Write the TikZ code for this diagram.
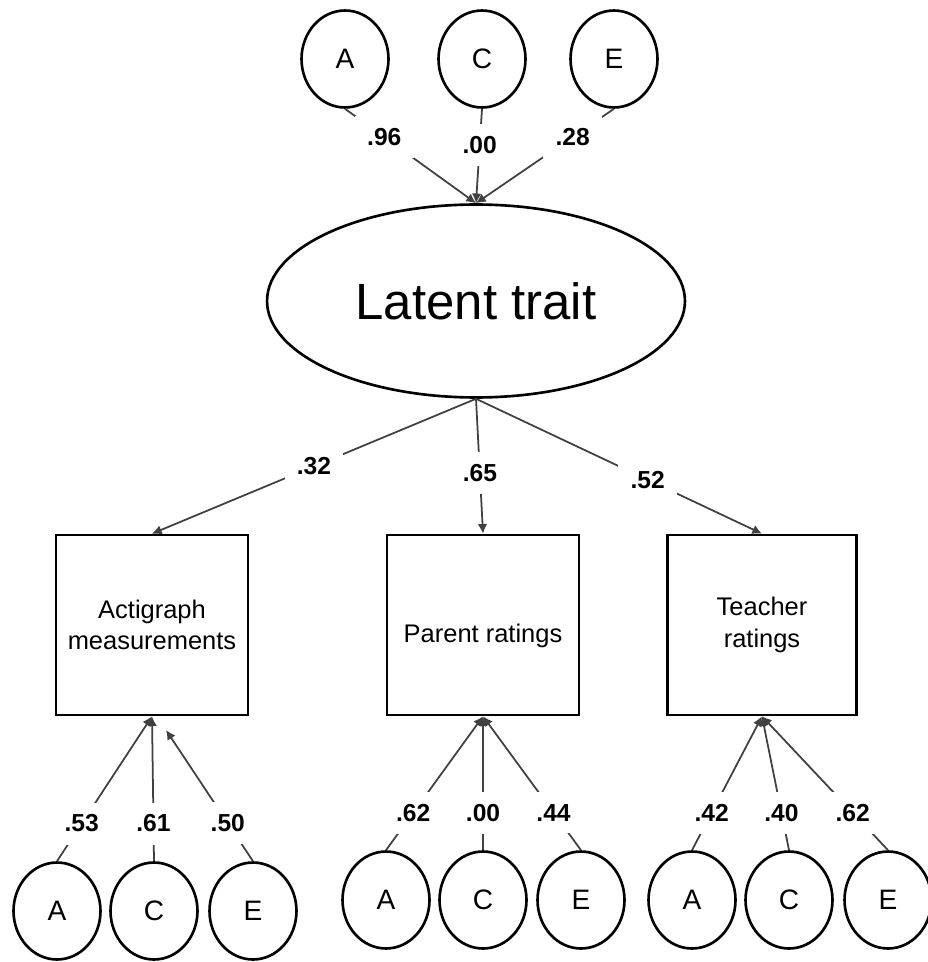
\documentclass[tikz,border=0pt]{standalone}
\usepackage{fontspec}
\setmainfont{Liberation Sans}
\usetikzlibrary{positioning,shapes.geometric,arrows.meta}

\begin{document}
\begin{tikzpicture}[x=0.02cm,y=-0.02cm,
	factor/.style={draw,ellipse,line width=1.5pt,fill=white,minimum width=1.74cm,minimum height=1.94cm,inner sep=0pt,font=\fontsize{16}{18}\selectfont},
	measure/.style={draw,rectangle,line width=1.5pt,minimum width=3.84cm,minimum height=3.6cm,align=center,font=\fontsize{14.5}{18}\selectfont},
	loading/.style={draw=black!75,line width=1pt,-{Latex[length=5.5pt,width=5.5pt]}},
	coef/.style={fill=white,inner sep=7pt,font=\bfseries\fontsize{14}{16}\selectfont}]
	\useasboundingbox (0,0) rectangle (928,962);

	% latent trait and its A, C, E
	\node[draw,ellipse,line width=1.5pt,minimum width=8.36cm,minimum height=3.86cm,font=\fontsize{29}{32}\selectfont] (lat) at (476,301) {Latent trait};
	\node[factor] (tA) at (345,59) {A};
	\node[factor] (tC) at (482,59) {C};
	\node[factor] (tE) at (614,59) {E};

	\draw[loading] (tA.south) -- node[coef,pos=.3] {.96} (lat.north);
	\draw[loading] (tC.south) -- node[coef,pos=.38] {.00} (lat.north);
	\draw[loading] (tE.south) -- node[coef,pos=.3] {.28} (lat.north);

	% measures
	\node[measure] (act) at (152,625) {Actigraph\\measurements};
	\node[measure] (par) at (483,625) {\smash{\raisebox{-10pt}{Parent ratings}}};
	\node[measure,minimum width=3.78cm] (tea) at (762,625) {Teacher\\ratings};

	\draw[loading] (lat.south) -- node[coef,pos=.5] {.32} (act.north);
	\draw[loading] (lat.south) -- node[coef,pos=.55] {.65} (par.north);
	\draw[loading] (lat.south) -- node[coef,pos=.6] {.52} (tea.north);

	% actigraph A, C, E
	\node[factor] (aA) at (57,911) {A};
	\node[factor] (aC) at (154,911) {C};
	\node[factor] (aE) at (253,911) {E};
	\coordinate (aEend) at (166,730);

	\draw[loading] (aA.north) -- node[coef,pos=.26] {.53} (act.south);
	\draw[loading] (aC.north) -- node[coef,pos=.26] {.61} (act.south);
	\draw[loading] (aE.north) -- node[coef,pos=.29] {.50} (aEend);

	% parent A, C, E
	\node[factor] (pA) at (386,900) {A};
	\node[factor] (pC) at (483,900) {C};
	\node[factor] (pE) at (581,900) {E};

	\draw[loading] (pA.north) -- node[coef,pos=.28] {.62} (par.south);
	\draw[loading] (pC.north) -- node[coef,pos=.28] {.00} (par.south);
	\draw[loading] (pE.north) -- node[coef,pos=.28] {.44} (par.south);

	% teacher A, C, E
	\node[factor] (eA) at (692,900) {A};
	\node[factor] (eC) at (789,900) {C};
	\node[factor] (eE) at (888,900) {E};

	\draw[loading] (eA.north) -- node[coef,pos=.28] {.42} (tea.south);
	\draw[loading] (eC.north) -- node[coef,pos=.28] {.40} (tea.south);
	\draw[loading] (eE.north) -- node[coef,pos=.28] {.62} (tea.south);
\end{tikzpicture}
\end{document}
